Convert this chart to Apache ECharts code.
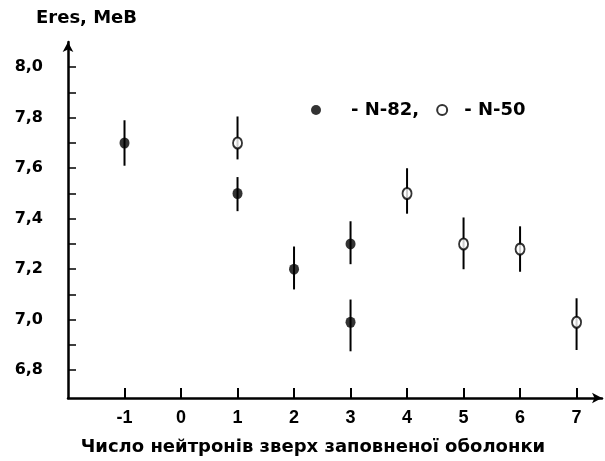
<!DOCTYPE html>
<html>
<head>
<meta charset="utf-8">
<script src="https://cdn.jsdelivr.net/npm/echarts@6/dist/echarts.min.js"></script>
<style>html,body{margin:0;padding:0;background:#fff;}#c{width:605px;height:461px;}</style>
</head>
<body>
<div id="c"></div>
<script>
// Data
var n82X  = [-1, 1, 2, 3, 3];
var n82Y  = [7.70, 7.50, 7.20, 7.30, 6.99];
var n82Lo = [7.61, 7.43, 7.12, 7.22, 6.875];
var n82Hi = [7.79, 7.565, 7.29, 7.39, 7.08];

var n50X  = [1, 4, 5, 6, 7];
var n50Y  = [7.70, 7.50, 7.30, 7.28, 6.99];
var n50Lo = [7.635, 7.42, 7.20, 7.19, 6.88];
var n50Hi = [7.805, 7.60, 7.405, 7.37, 7.085];

var xTickValues = [-1, 0, 1, 2, 3, 4, 5, 6, 7];
var yLabelValues = [6.8, 7.0, 7.2, 7.4, 7.6, 7.8, 8.0];
var yTickValues = [6.8, 6.9, 7.0, 7.1, 7.2, 7.3, 7.4, 7.5, 7.6, 7.7, 7.8, 7.9, 8.0];

var yName = 'Eres, MeB';
var xName = 'Число нейтронів зверх заповненої оболонки';

function pairs(xs, ys) { return xs.map(function (x, i) { return [x, ys[i]]; }); }
function bars(xs, lo, hi) { return xs.map(function (x, i) { return [x, lo[i], hi[i]]; }); }

function errRender(params, api) {
  var p1 = api.coord([api.value(0), api.value(1)]);
  var p2 = api.coord([api.value(0), api.value(2)]);
  return {
    type: 'line',
    shape: { x1: p1[0], y1: p1[1], x2: p2[0], y2: p2[1] },
    style: { stroke: '#000', lineWidth: 2 }
  };
}

var chart = echarts.init(document.getElementById('c'));
chart.setOption({
  animation: false,
  backgroundColor: '#fff',
  grid: { left: 68, right: 3, top: 42, bottom: 53 },
  legend: {
    left: 306, top: 96,
    itemWidth: 10, itemHeight: 11, itemGap: 17,
    data: [
      { name: 'N-82', icon: 'circle', itemStyle: { color: '#000' } },
      { name: 'N-50', icon: 'emptyCircle', itemStyle: { color: '#000', borderColor: '#000', borderWidth: 2 } }
    ],
    formatter: function (name) {
      return name === 'N-82' ? '{a|- N-82,}' : '{b|- N-50}';
    },
    textStyle: {
      color: '#000', fontFamily: 'DejaVu Sans', fontWeight: 'bold', fontSize: 18,
      rich: {
        a: { color: '#000', fontFamily: 'DejaVu Sans', fontWeight: 'bold', fontSize: 18, padding: [0, 0, 0, 25] },
        b: { color: '#000', fontFamily: 'DejaVu Sans', fontWeight: 'bold', fontSize: 18, padding: [0, 0, 0, 12] }
      }
    }
  },
  xAxis: {
    type: 'value', min: -2, max: 7.45,
    name: xName, nameLocation: 'middle', nameGap: 40,
    nameTextStyle: { color: '#000', fontFamily: 'DejaVu Sans', fontWeight: 'bold', fontSize: 18, padding: [0, 44, 0, 0] },
    axisLine: { show: true, onZero: false, symbol: ['none', 'arrow'], symbolSize: [8, 10], lineStyle: { color: '#000', width: 2.5 } },
    axisTick: { show: true, inside: true, length: 10, customValues: xTickValues, lineStyle: { color: '#000', width: 2 } },
    axisLabel: { customValues: xTickValues, margin: 11, color: '#000', fontFamily: 'Liberation Sans', fontWeight: 'bold', fontSize: 18 },
    splitLine: { show: false }
  },
  yAxis: {
    type: 'value', min: 6.69, max: 8.1,
    name: yName, nameLocation: 'end', nameGap: 15,
    nameTextStyle: { color: '#000', fontFamily: 'DejaVu Sans', fontWeight: 'bold', fontSize: 18, align: 'left', padding: [0, 0, 0, -32] },
    axisLine: { show: true, onZero: false, symbol: ['none', 'arrow'], symbolSize: [8, 10], lineStyle: { color: '#000', width: 2.5 } },
    axisTick: { show: true, inside: true, length: 8, customValues: yTickValues, lineStyle: { color: '#000', width: 1.5 } },
    axisLabel: {
      customValues: yLabelValues, margin: 25, color: '#000', fontFamily: 'DejaVu Sans', fontWeight: 'bold', fontSize: 16,
      formatter: function (v) { return v.toFixed(1).replace('.', ','); }
    },
    splitLine: { show: false }
  },
  series: [
    { type: 'custom', name: 'N-82 err', renderItem: errRender, data: bars(n82X, n82Lo, n82Hi), z: 2, silent: true },
    { type: 'custom', name: 'N-50 err', renderItem: errRender, data: bars(n50X, n50Lo, n50Hi), z: 2, silent: true },
    { type: 'scatter', name: 'N-82', data: pairs(n82X, n82Y), symbol: 'circle', symbolSize: [10, 11], itemStyle: { color: '#000' }, z: 3 },
    { type: 'scatter', name: 'N-50', data: pairs(n50X, n50Y), symbol: 'emptyCircle', symbolSize: [9, 11], itemStyle: { color: '#000', borderWidth: 2 }, z: 3 }
  ]
});
</script>
</body>
</html>
